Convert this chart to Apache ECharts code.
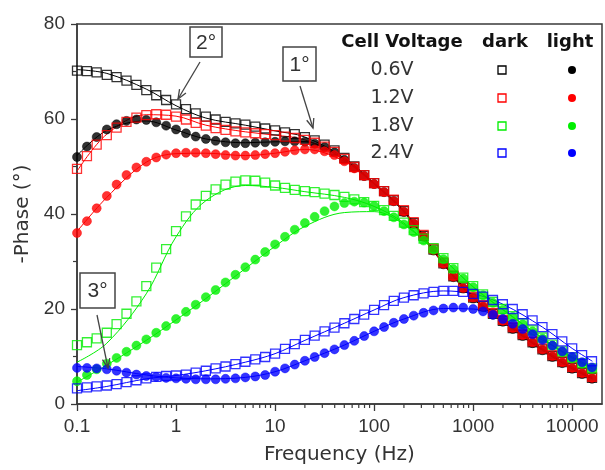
<!DOCTYPE html>
<html>
<head>
<meta charset="utf-8">
<script src="https://cdn.jsdelivr.net/npm/echarts@6/dist/echarts.min.js"></script>
<style>
html,body{margin:0;padding:0;background:#fff;}
#c{width:605px;height:470px;}
</style>
</head>
<body>
<div id="c"></div>
<script>
// ---- data ----
const freq = [0.1, 0.126, 0.158, 0.2, 0.251, 0.316, 0.398, 0.501, 0.631, 0.794,
  1, 1.26, 1.58, 2, 2.51, 3.16, 3.98, 5.01, 6.31, 7.94,
  10, 12.6, 15.8, 20, 25.1, 31.6, 39.8, 50.1, 63.1, 79.4,
  100, 126, 158, 200, 251, 316, 398, 501, 631, 794,
  1000, 1259, 1585, 1995, 2512, 3162, 3981, 5012, 6310, 7943,
  10000, 12589, 15849];

const dark06 = [70.2,70.1,69.8,69.3,68.8,68.1,67.2,66.1,65.0,64.0, 63.1,62.1,61.2,60.5,59.9,59.4,59.1,58.8,58.4,58.0, 57.6,57.2,56.8,56.2,55.5,54.6,53.4,51.8,50.0,48.2, 46.5,44.8,42.9,40.6,38.1,35.4,32.5,29.6,26.9,24.5, 22.4,20.6,19.0,17.5,16.0,14.5,13.0,11.5,10.1,8.8, 7.6,6.5,5.5];
const light06 = [52.0,54.2,56.2,57.8,58.9,59.6,59.9,59.8,59.3,58.6, 57.8,57.0,56.3,55.8,55.4,55.1,54.9,54.9,55.0,55.1, 55.2,55.3,55.3,55.2,54.8,54.1,53.0,51.4,49.7,48.0, 46.3,44.6,42.7,40.4,37.9,35.2,32.3,29.4,26.7,24.3, 22.2,20.4,18.8,17.3,15.8,14.3,12.8,11.3,9.9,8.6, 7.4,6.3,5.3];
const dark12 = [49.5,52.2,54.6,56.6,58.2,59.4,60.3,60.8,61.0,60.9, 60.5,59.9,59.2,58.6,58.1,57.7,57.4,57.2,57.0,56.8, 56.6,56.3,56.0,55.6,55.0,54.2,53.1,51.6,49.9,48.2, 46.5,44.8,43.0,40.8,38.3,35.6,32.7,29.8,27.1,24.7, 22.6,20.8,19.2,17.7,16.2,14.7,13.2,11.7,10.3,9.0, 7.8,6.7,5.7];
const light12 = [36.0,38.5,41.2,43.8,46.2,48.2,49.8,51.0,51.9,52.5, 52.8,52.9,52.9,52.8,52.6,52.4,52.3,52.3,52.4,52.6, 52.8,53.1,53.4,53.6,53.6,53.2,52.4,51.1,49.6,48.0, 46.3,44.6,42.7,40.5,38.0,35.3,32.4,29.5,26.8,24.4, 22.4,20.6,19.0,17.5,16.0,14.5,13.0,11.5,10.1,8.8, 7.6,6.5,5.5];
const dark18 = [12.4,13.0,13.8,15.0,16.8,19.0,21.6,24.8,28.7,32.6, 36.4,39.5,42.0,43.8,45.2,46.2,46.8,47.1,47.0,46.6, 46.0,45.5,45.1,44.8,44.6,44.3,44.0,43.6,43.1,42.5, 41.7,40.8,39.6,38.2,36.6,34.8,32.8,30.7,28.6,26.6, 24.8,23.1,21.5,20.0,18.5,17.0,15.5,14.0,12.5,11.1, 9.8,8.6,7.5];
const light18 = [4.8,6.1,7.3,8.5,9.7,11.0,12.3,13.6,15.0,16.4, 17.9,19.4,20.9,22.5,24.0,25.6,27.2,28.8,30.4,32.0, 33.6,35.2,36.7,38.1,39.4,40.6,41.6,42.3,42.6,42.4, 41.7,40.6,39.3,37.8,36.2,34.4,32.5,30.5,28.4,26.4, 24.6,22.9,21.3,19.8,18.3,16.8,15.3,13.8,12.3,10.9, 9.6,8.5,7.4];
const dark24 = [3.3,3.5,3.7,3.9,4.2,4.6,5.0,5.4,5.7,5.9, 6.0,6.2,6.6,7.0,7.5,7.9,8.4,8.9,9.4,9.9, 10.6,11.6,12.6,13.5,14.4,15.3,16.1,17.0,17.9,18.8, 19.8,20.8,21.7,22.4,22.9,23.3,23.6,23.8,23.8,23.6, 23.2,22.6,21.9,21.0,20.0,18.9,17.6,16.2,14.7,13.2, 11.7,10.3,9.0];
const light24 = [7.6,7.6,7.5,7.3,7.0,6.6,6.2,5.9,5.7,5.5, 5.4,5.3,5.2,5.2,5.2,5.3,5.4,5.6,5.8,6.1, 6.8,7.5,8.3,9.1,9.9,10.7,11.5,12.4,13.3,14.3, 15.3,16.2,17.1,17.9,18.6,19.2,19.7,20.1,20.3,20.3, 20.0,19.5,18.8,17.9,16.9,15.8,14.7,13.5,12.3,11.1, 9.9,8.8,7.7];

// fitted curves
const fitFreq = [0.1, 0.2, 0.5, 1, 2, 5, 10, 20, 50, 100, 200, 500, 1000, 2000, 5000, 10000, 16000];
const fitDark06 = [70.4, 69.6, 66.3, 62.8, 60.2, 58.7, 57.5, 56.2, 51.8, 46.5, 40.6, 29.6, 22.4, 17.5, 11.5, 7.6, 5.5];
const fitLight06 = [52.3, 57.6, 59.6, 57.7, 55.8, 55.0, 55.2, 55.2, 51.4, 46.3, 40.4, 29.4, 22.2, 17.3, 11.3, 7.4, 5.3];
const fitDark12 = [49.0, 56.8, 60.9, 60.6, 58.7, 57.3, 56.6, 55.6, 51.6, 46.5, 40.8, 29.8, 22.6, 17.7, 11.7, 7.8, 5.7];
const fitLight12 = [36.3, 43.5, 50.9, 52.7, 52.8, 52.3, 52.8, 53.6, 51.1, 46.3, 40.5, 29.5, 22.4, 17.5, 11.5, 7.6, 5.5];
const fitDark18 = [8.8, 12.8, 23.2, 35.2, 42.8, 46.0, 45.6, 44.7, 43.5, 41.6, 38.1, 30.6, 24.7, 19.9, 13.9, 9.7, 7.5];
const fitLight18 = [4.6, 8.2, 13.4, 17.7, 22.2, 28.5, 33.2, 37.4, 40.3, 40.5, 37.8, 30.5, 24.6, 19.8, 13.8, 9.6, 7.4];
const fitDark24 = [2.8, 3.7, 5.3, 6.0, 7.0, 8.8, 10.6, 13.4, 17.0, 19.8, 22.4, 23.8, 23.2, 21.0, 16.2, 11.7, 9.0];
const fitLight24 = [7.9, 7.4, 6.1, 5.5, 5.3, 5.6, 6.8, 9.1, 12.4, 15.3, 17.9, 20.1, 20.0, 17.9, 13.5, 9.9, 7.7];

const voltages = ['0.6V', '1.2V', '1.8V', '2.4V'];
const colors = ['#000000', '#ff0000', '#00ee00', '#0000ff'];
const majorTicks = [0.1, 1, 10, 100, 1000, 10000];
const minorTicks = [0.2,0.3,0.4,0.5,0.6,0.7,0.8,0.9, 2,3,4,5,6,7,8,9, 20,30,40,50,60,70,80,90,
  200,300,400,500,600,700,800,900, 2000,3000,4000,5000,6000,7000,8000,9000];

const darkSets = [dark06, dark12, dark18, dark24];
const lightSets = [light06, light12, light18, light24];
const fitDarkSets = [fitDark06, fitDark12, fitDark18, fitDark24];
const fitLightSets = [fitLight06, fitLight12, fitLight18, fitLight24];

// ---- chart ----
const AX = '#3a3a3a';
const chart = echarts.init(document.getElementById('c'), null, {renderer: 'canvas'});
const pair = (xs, ys) => xs.map((x, i) => [x, ys[i]]);

const series = [];
for (let i = 0; i < 4; i++) {
  const c = colors[i];
  series.push({
    type: 'line', name: voltages[i] + ' dark fit', data: pair(fitFreq, fitDarkSets[i]),
    showSymbol: false, smooth: 0.35, lineStyle: {color: c, width: 1}, z: 2, silent: true
  });
  series.push({
    type: 'line', name: voltages[i] + ' light fit', data: pair(fitFreq, fitLightSets[i]),
    showSymbol: false, smooth: 0.35, lineStyle: {color: c, width: 1}, z: 2, silent: true
  });
}
for (let i = 0; i < 4; i++) {
  const c = colors[i];
  series.push({
    type: 'scatter', name: voltages[i] + ' dark', data: pair(freq, darkSets[i]),
    symbol: 'rect', symbolSize: 9,
    itemStyle: {color: 'rgba(255,255,255,0)', borderColor: c, borderWidth: 1.3},
    z: 3 + i, silent: true
  });
  series.push({
    type: 'scatter', name: voltages[i] + ' light', data: pair(freq, lightSets[i]),
    symbol: 'circle', symbolSize: 9,
    itemStyle: {color: c, borderColor: i === 0 ? '#000' : echarts.color.lift(c, -0.35), borderWidth: 0.6},
    z: 3 + i, silent: true
  });
}
// minor ticks of the log axis
series.push({
  type: 'custom', silent: true, z: 10,
  data: minorTicks.map(v => [v, 0]),
  encode: {x: 0, y: 1},
  renderItem: function (params, api) {
    const p = api.coord([api.value(0), 0]);
    return {type: 'line', shape: {x1: p[0], y1: p[1], x2: p[0], y2: p[1] + 4},
      style: {stroke: AX, lineWidth: 1.2}};
  }
});

// annotations
function arrow(x1, y1, x2, y2) {
  const a = Math.atan2(y2 - y1, x2 - x1), L = 10, w = 0.38;
  return [
    {type: 'line', shape: {x1, y1, x2, y2}, style: {stroke: '#444', lineWidth: 1.3}, z: 20},
    {type: 'polyline', shape: {points: [
      [x2 - L * Math.cos(a - w), y2 - L * Math.sin(a - w)], [x2, y2],
      [x2 - L * Math.cos(a + w), y2 - L * Math.sin(a + w)]]},
      style: {stroke: '#444', lineWidth: 1.3, fill: null}, z: 20}
  ];
}
function box(x, y, w, h, t) {
  return [
    {type: 'rect', shape: {x, y, width: w, height: h}, style: {fill: '#fff', stroke: '#444', lineWidth: 1.5}, z: 20},
    {type: 'text', x: x + w / 2, y: y + h / 2 + 1, style: {text: t, align: 'center', verticalAlign: 'middle',
      font: '21px "Liberation Sans", Arial, sans-serif', fill: '#333'}, z: 21}
  ];
}
const TXT = '"DejaVu Sans", Verdana, sans-serif';
const graphics = [].concat(
  box(190, 27, 32, 30, '2°'), arrow(200, 62, 178, 99),
  box(283, 47, 33, 34, '1°'), arrow(300, 86, 313, 128),
  box(80, 273, 35, 35, '3°'), arrow(97, 315, 108, 368),
  [
    {type: 'text', x: 402, y: 42, style: {text: 'Cell Voltage', align: 'center', verticalAlign: 'middle', font: 'bold 18px ' + TXT, fill: '#111'}, z: 20},
    {type: 'text', x: 505, y: 42, style: {text: 'dark', align: 'center', verticalAlign: 'middle', font: 'bold 18px ' + TXT, fill: '#111'}, z: 20},
    {type: 'text', x: 570, y: 42, style: {text: 'light', align: 'center', verticalAlign: 'middle', font: 'bold 18px ' + TXT, fill: '#111'}, z: 20}
  ]
);
const rowY = [70, 98, 126, 153];
for (let i = 0; i < 4; i++) {
  graphics.push({type: 'text', x: 392, y: rowY[i], style: {text: voltages[i], align: 'center', verticalAlign: 'middle', font: '19px ' + TXT, fill: '#333'}, z: 20});
  graphics.push({type: 'rect', shape: {x: 498, y: rowY[i] - 4, width: 8, height: 8}, style: {fill: null, stroke: colors[i], lineWidth: 1.3}, z: 20});
  graphics.push({type: 'circle', shape: {cx: 572, cy: rowY[i], r: 4}, style: {fill: colors[i]}, z: 20});
}

const option = {
  backgroundColor: '#fff',
  animation: false,
  grid: {left: 77, right: 3, top: 24, bottom: 60, show: true, borderColor: AX, borderWidth: 1.5, backgroundColor: 'transparent'},
  xAxis: {
    type: 'log', logBase: 10, min: 0.1, max: 20000,
    name: 'Frequency (Hz)', nameLocation: 'middle', nameGap: 41,
    nameTextStyle: {fontSize: 20, color: '#333', fontFamily: 'DejaVu Sans'},
    axisLine: {show: true, lineStyle: {color: AX, width: 1.5}},
    axisTick: {show: true, inside: false, length: 7, lineStyle: {color: AX, width: 1.3}},
    minorTick: {show: false},
    splitLine: {show: false},
    axisLabel: {
      fontSize: 19, color: '#333', fontFamily: 'Liberation Sans', margin: 13,
      showMaxLabel: false,
      formatter: function (v) {
        const e = Math.round(Math.log10(v));
        if (Math.abs(Math.log10(v) - e) > 1e-6) return '';
        const m = majorTicks.find(t => Math.abs(Math.log10(t) - e) < 1e-6);
        return m === undefined ? '' : String(m);
      }
    }
  },
  yAxis: {
    type: 'value', min: 0, max: 80, interval: 20,
    name: '-Phase (°)', nameLocation: 'middle', nameGap: 44,
    nameTextStyle: {fontSize: 20, color: '#333', fontFamily: 'DejaVu Sans'},
    axisLine: {show: true, lineStyle: {color: AX, width: 1.5}},
    axisTick: {show: true, inside: false, length: 6, lineStyle: {color: AX, width: 1.3}},
    minorTick: {show: true, splitNumber: 2, length: 4, lineStyle: {color: AX, width: 1.2}},
    splitLine: {show: false},
    axisLabel: {fontSize: 19, color: '#333', fontFamily: 'Liberation Sans', margin: 12}
  },
  series: series,
  graphic: graphics
};
chart.setOption(option);
</script>
</body>
</html>
